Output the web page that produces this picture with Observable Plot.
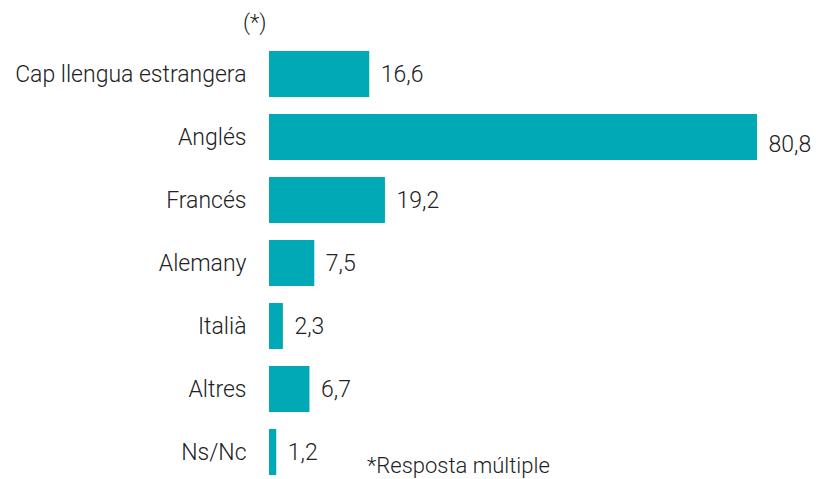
<!DOCTYPE html>
<html>
<head>
<meta charset="utf-8">
<script src="https://cdn.jsdelivr.net/npm/d3@7"></script>
<script src="https://cdn.jsdelivr.net/npm/@observablehq/plot@0.6"></script>
<style>
  html, body { margin: 0; padding: 0; background: #fff; }
  #wrap { position: relative; width: 816px; height: 479px; font-family: Roboto, sans-serif; font-weight: 300; color: #222; }
  .note { position: absolute; font-size: 22px; white-space: nowrap; line-height: 1; }
</style>
</head>
<body>
<div id="wrap"></div>
<script>
const categories = ["Cap llengua estrangera", "Anglés", "Francés", "Alemany", "Italià", "Altres", "Ns/Nc"];
const values = [16.6, 80.8, 19.2, 7.5, 2.3, 6.7, 1.2];
const headerNote = "(*)";
const footNote = "*Resposta múltiple";

const data = categories.map((c, i) => ({category: c, value: values[i]}));
const fmt = v => v.toFixed(1).replace(".", ",");

const chart = Plot.plot({
  width: 816,
  height: 479,
  marginTop: 51,
  marginBottom: 4,
  marginLeft: 269,
  marginRight: 59,
  style: {fontFamily: "Roboto, sans-serif", fontWeight: 300, fontSize: "23px", color: "#222", background: "#fff"},
  x: {domain: [0, 80.8], axis: null},
  y: {domain: categories, paddingInner: 0.27, paddingOuter: 0, label: null},
  marks: [
    Plot.barX(data, {x: "value", y: "category", fill: "#00A9B5"}),
    Plot.axisY({tickSize: 0, tickPadding: 23, fontSize: 23, label: null}),
    Plot.text(data.filter(d => d.category !== "Anglés"), {x: "value", y: "category", text: d => fmt(d.value), textAnchor: "start", dx: 11, fontSize: 23, fill: "#222"}),
    Plot.text(data.filter(d => d.category === "Anglés"), {x: "value", y: "category", text: d => fmt(d.value), textAnchor: "start", dx: 11, dy: 7, fontSize: 23, fill: "#222"})
  ]
});
const wrap = document.getElementById("wrap");
wrap.appendChild(chart);

const h = document.createElement("div");
h.className = "note";
h.textContent = headerNote;
h.style.left = "243px";
h.style.top = "12px";
wrap.appendChild(h);

const f = document.createElement("div");
f.className = "note";
f.textContent = footNote;
f.style.left = "367px";
f.style.top = "455px";
wrap.appendChild(f);
</script>
</body>
</html>
